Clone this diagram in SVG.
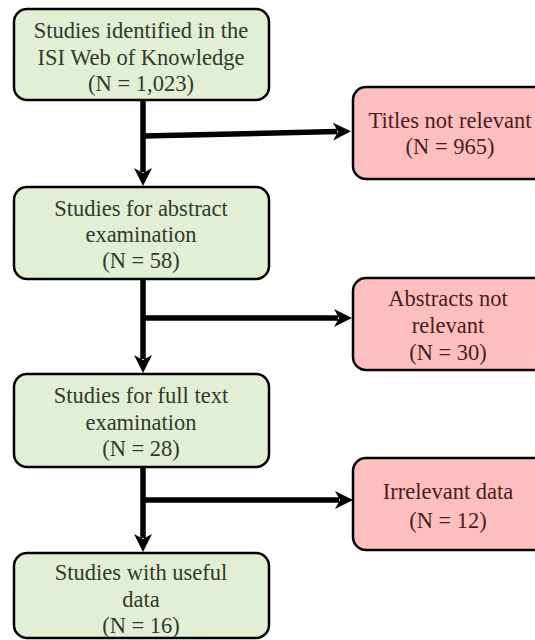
<svg xmlns="http://www.w3.org/2000/svg" width="535" height="640" viewBox="0 0 535 640">
<style>
.g rect{fill:#e2efd5;stroke:#000;stroke-width:2.5}
.r rect{fill:#ffbfbf;stroke:#000;stroke-width:2.5}
text{font-size:22.5px;text-anchor:middle}
.g text{fill:#2f3a2a}
.r text{fill:#4a1c1c}
.c path{fill:none;stroke:#000;stroke-width:5.5}
</style>
<defs>
<marker id="ah" markerUnits="userSpaceOnUse" markerWidth="20" markerHeight="20" refX="4" refY="10" orient="auto" viewBox="0 0 20 20">
<path d="M0,1 L18,10 L0,19 L5,10 Z" fill="#000"/>
</marker>
</defs>
<rect width="535" height="640" fill="#fff"/>
<g id="connectors" class="c">
<path d="M143,100 V172" marker-end="url(#ah)"/>
<path d="M143,279 V359" marker-end="url(#ah)"/>
<path d="M143,467 V538" marker-end="url(#ah)"/>
<path d="M143,136 L337,131.5" marker-end="url(#ah)"/>
<path d="M143,318 H338" marker-end="url(#ah)"/>
<path d="M143,500 H339" marker-end="url(#ah)"/>
</g>
<g font-family="'Liberation Serif', 'Times New Roman', 'DejaVu Serif', serif">
<g id="n1" class="g">
<rect x="14" y="9" width="255" height="91" rx="13"/>
<text x="141" y="38">Studies identified in the</text>
<text x="141" y="65">ISI Web of Knowledge</text>
<text x="141" y="91">(N = 1,023)</text>
</g>
<g id="n2" class="g">
<rect x="14" y="187" width="255" height="92" rx="13"/>
<text x="141" y="216">Studies for abstract</text>
<text x="141" y="242">examination</text>
<text x="141" y="268">(N = 58)</text>
</g>
<g id="n3" class="g">
<rect x="14" y="374" width="255" height="93" rx="13"/>
<text x="141" y="403">Studies for full text</text>
<text x="141" y="430">examination</text>
<text x="141" y="456">(N = 28)</text>
</g>
<g id="n4" class="g">
<rect x="14" y="553" width="255" height="85" rx="13"/>
<text x="141" y="580">Studies with useful</text>
<text x="141" y="607">data</text>
<text x="141" y="633">(N = 16)</text>
</g>
<g id="r1" class="r">
<rect x="353" y="87" width="195" height="92" rx="13"/>
<text x="450" y="128">Titles not relevant</text>
<text x="450" y="154">(N = 965)</text>
</g>
<g id="r2" class="r">
<rect x="353" y="278" width="195" height="92" rx="13"/>
<text x="448" y="306">Abstracts not</text>
<text x="448" y="333">relevant</text>
<text x="448" y="360">(N = 30)</text>
</g>
<g id="r3" class="r">
<rect x="353" y="458" width="195" height="92" rx="13"/>
<text x="448" y="499">Irrelevant data</text>
<text x="448" y="528">(N = 12)</text>
</g>
</g>
</svg>
